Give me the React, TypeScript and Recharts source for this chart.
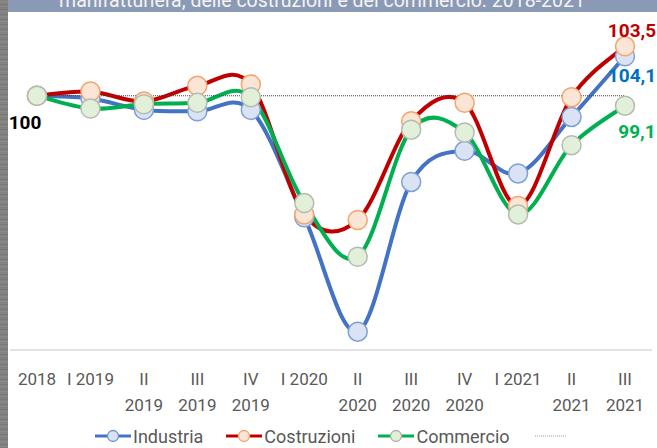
import { LineChart, Line, XAxis, YAxis, LabelList } from "recharts"

// Categories and tick labels (Excel wraps the long ones on two lines)
const tickLabels = [
  "2018",
  "I 2019",
  "II\n2019",
  "III\n2019",
  "IV\n2019",
  "I 2020",
  "II\n2020",
  "III\n2020",
  "IV\n2020",
  "I 2021",
  "II\n2021",
  "III\n2021",
]

const industria = [100, 99.8, 99.0, 98.9, 99.0, 91.4, 83.3, 93.9, 96.1, 94.5, 98.5, 102.8]
const costruzioni = [100, 100.3, 99.6, 100.7, 100.8, 91.6, 91.2, 98.2, 99.5, 92.2, 99.9, 103.5]
const commercio = [100, 99.1, 99.4, 99.5, 99.9, 92.4, 88.6, 97.6, 97.4, 91.6, 96.5, 99.3]
const base = [100, 100, 100, 100, 100, 100, 100, 100, 100, 100, 100, 100]

// end labels as printed on the chart
const endLabels = { industria: "104,1", costruzioni: "103,5", commercio: "99,1" }
const startLabel = "100"

const title = "manifatturiera, delle costruzioni e del commercio. 2018-2021"

const data = tickLabels.map((label, i) => ({
  label,
  industria: industria[i],
  costruzioni: costruzioni[i],
  commercio: commercio[i],
  base: base[i],
}))

const FONT = "Roboto, 'Open Sans', sans-serif"
const LAST = tickLabels.length - 1

// Excel-like smoothing: Catmull-Rom through the points
function excelSmooth(context: any) {
  let pts: [number, number][] = []
  return {
    areaStart() {},
    areaEnd() {},
    lineStart() {
      pts = []
    },
    lineEnd() {
      if (!pts.length) return
      context.moveTo(pts[0][0], pts[0][1])
      for (let i = 0; i < pts.length - 1; i++) {
        const p0 = pts[i - 1] ?? pts[i]
        const p1 = pts[i]
        const p2 = pts[i + 1]
        const p3 = pts[i + 2] ?? p2
        context.bezierCurveTo(
          p1[0] + (p2[0] - p0[0]) / 6,
          p1[1] + (p2[1] - p0[1]) / 6,
          p2[0] - (p3[0] - p1[0]) / 6,
          p2[1] - (p3[1] - p1[1]) / 6,
          p2[0],
          p2[1]
        )
      }
    },
    point(x: number, y: number) {
      pts.push([+x, +y])
    },
  }
}

function Tick(props: any) {
  const { x, y, payload } = props
  const lines = String(payload.value).split("\n")
  return (
    <g>
      {lines.map((t, i) => (
        <text
          key={i}
          x={x}
          y={y + 27 + i * 26}
          textAnchor="middle"
          fill="#595959"
          fontSize={17}
          fontFamily={FONT}
        >
          {t}
        </text>
      ))}
    </g>
  )
}

function endLabel(text: string, color: string, dx: number, dy: number) {
  return (props: any) => {
    if (props.index !== LAST) return null
    return (
      <text
        x={props.x + dx}
        y={props.y + dy}
        textAnchor="middle"
        fill={color}
        fontSize={19}
        fontWeight="bold"
        fontFamily={FONT}
      >
        {text}
      </text>
    )
  }
}

function startLabelContent(props: any) {
  if (props.index !== 0) return null
  return (
    <text
      x={props.x - 12}
      y={props.y + 33}
      textAnchor="middle"
      fill="#000"
      fontSize={19}
      fontWeight="bold"
      fontFamily={FONT}
    >
      {startLabel}
    </text>
  )
}

function Swatch({ color, fill, stroke }: { color: string; fill: string; stroke: string }) {
  return (
    <svg width={36} height={14} style={{ display: "block" }}>
      <line x1={0} x2={36} y1={7} y2={7} stroke={color} strokeWidth={3} />
      <circle cx={18} cy={7} r={5.5} fill={fill} stroke={stroke} strokeWidth={1.3} />
    </svg>
  )
}

const legendItems = [
  { name: "Industria", color: "#4472c4", fill: "#dae3f3", stroke: "#6f94d6" },
  { name: "Costruzioni", color: "#c00000", fill: "#fbe5d6", stroke: "#f4a46c" },
  { name: "Commercio", color: "#00b050", fill: "#e2f0d9", stroke: "#a9b3a5" },
]

export default function App() {
  return (
    <div
      style={{
        position: "absolute",
        left: 0,
        top: 0,
        width: 657,
        height: 448,
        background: "#fff",
        overflow: "hidden",
        fontFamily: FONT,
      }}
    >
      {/* grey strip on the left */}
      <div
        style={{
          position: "absolute",
          left: 0,
          top: 0,
          width: 8,
          height: 448,
          background: "repeating-linear-gradient(0deg, #7d7d7d 0px, #8e8e8e 2px, #737373 3px, #888 5px)",
        }}
      />
      {/* title band, cut off at the top */}
      <svg width={649} height={12} style={{ position: "absolute", left: 8, top: 0 }}>
        <rect width={649} height={12} fill="#8b9ab4" />
        <text x={314} y={7} textAnchor="middle" fill="#f4f4f4" fontSize={19.5} fontFamily={FONT}>
          {title}
        </text>
      </svg>

      <div style={{ position: "absolute", left: 0, top: 0 }}>
        <LineChart
          width={657}
          height={448}
          data={data}
          margin={{ top: 11, right: 5, bottom: 28, left: 10 }}
        >
          <XAxis
            dataKey="label"
            interval={0}
            height={70}
            tickLine={false}
            padding={{ left: 27, right: 27 }}
            axisLine={{ stroke: "#d9d9d9", strokeWidth: 1.5 }}
            tick={<Tick />}
          />
          <YAxis hide domain={[82, 106]} />

          <Line
            dataKey="industria"
            type={excelSmooth as any}
            stroke="#4472c4"
            strokeWidth={4}
            dot={{ r: 9.5, fill: "#dae3f3", stroke: "#7f9fd8", strokeWidth: 1.5 }}
            isAnimationActive={false}
          >
            <LabelList dataKey="industria" content={endLabel(endLabels.industria, "#0070c0", 7, 26)} />
          </Line>
          <Line
            dataKey="costruzioni"
            type={excelSmooth as any}
            stroke="#c00000"
            strokeWidth={4}
            dot={{ r: 9.5, fill: "#fbe5d6", stroke: "#f4a46c", strokeWidth: 1.5 }}
            isAnimationActive={false}
          >
            <LabelList dataKey="costruzioni" content={endLabel(endLabels.costruzioni, "#c00000", 7, -9)} />
          </Line>
          <Line
            dataKey="commercio"
            type={excelSmooth as any}
            stroke="#00b050"
            strokeWidth={4}
            dot={{ r: 9.5, fill: "#e2f0d9", stroke: "#b4bcb0", strokeWidth: 1.5 }}
            isAnimationActive={false}
          >
            <LabelList dataKey="commercio" content={endLabel(endLabels.commercio, "#00b050", 12, 32)} />
          </Line>
          <Line
            dataKey="base"
            type="linear"
            stroke="#404040"
            strokeWidth={1}
            strokeDasharray="1 1"
            dot={false}
            isAnimationActive={false}
          >
            <LabelList dataKey="base" content={startLabelContent} />
          </Line>
        </LineChart>
      </div>

      {/* legend */}
      <div
        style={{
          position: "absolute",
          left: 95,
          top: 425,
          height: 22,
          display: "flex",
          alignItems: "center",
          color: "#595959",
          fontSize: 18,
          whiteSpace: "nowrap",
        }}
      >
        {legendItems.map((it) => (
          <div key={it.name} style={{ display: "flex", alignItems: "center", marginRight: 23 }}>
            <Swatch color={it.color} fill={it.fill} stroke={it.stroke} />
            <span style={{ marginLeft: 2 }}>{it.name}</span>
          </div>
        ))}
        <svg width={32} height={14} style={{ display: "block", marginLeft: 2 }}>
          <line x1={0} x2={32} y1={7} y2={7} stroke="#9a9a9a" strokeWidth={1} strokeDasharray="1 1" />
        </svg>
      </div>
    </div>
  )
}
